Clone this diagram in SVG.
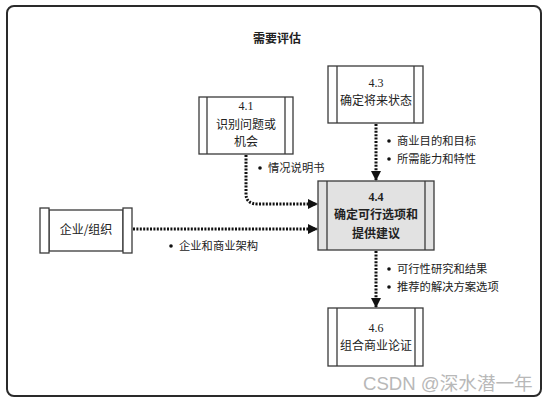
<svg xmlns="http://www.w3.org/2000/svg" width="549" height="403" viewBox="0 0 549 403">
<style>
.box{fill:#fff;stroke:#3a3a3a;stroke-width:1.3}
.gbox{fill:#e2e2e2;stroke:#3a3a3a;stroke-width:1.3}
.t{font-family:"Noto Sans CJK SC","Liberation Sans",sans-serif;font-size:12px;fill:#222;text-anchor:middle}
.n{font-family:"Liberation Serif",serif;font-size:12px;fill:#222;text-anchor:middle}
.b{font-weight:bold}
.lbl{font-family:"Noto Sans CJK SC","Liberation Sans",sans-serif;font-size:11.3px;fill:#222}
.dot{fill:none;stroke:#111;stroke-width:3;stroke-dasharray:2 1.4}
</style>
<defs>
<marker id="ah" markerWidth="10" markerHeight="10" refX="9" refY="5" orient="auto" markerUnits="userSpaceOnUse">
<path d="M0,0 L10,5 L0,10 Z" fill="#111"/>
</marker>
</defs>
<rect x="7" y="6" width="534" height="390" rx="7" fill="#fff" stroke="#2a2a2a" stroke-width="2"/>
<text x="277" y="43" class="t b">需要评估</text>

<g id="n41">
<rect class="box" x="199" y="97" width="94" height="57"/>
<line x1="207" y1="97" x2="207" y2="154" stroke="#3a3a3a" stroke-width="1.3"/>
<line x1="285" y1="97" x2="285" y2="154" stroke="#3a3a3a" stroke-width="1.3"/>
<text x="246" y="110" class="n">4.1</text>
<text x="246" y="129" class="t">识别问题或</text>
<text x="246" y="146" class="t">机会</text>
</g>

<g id="n43">
<rect class="box" x="328" y="66" width="95" height="57"/>
<line x1="337" y1="66" x2="337" y2="123" stroke="#3a3a3a" stroke-width="1.3"/>
<line x1="414" y1="66" x2="414" y2="123" stroke="#3a3a3a" stroke-width="1.3"/>
<text x="376" y="87" class="n">4.3</text>
<text x="376" y="105" class="t">确定将来状态</text>
</g>

<g id="n44">
<rect class="gbox" x="318" y="181" width="116" height="69"/>
<line x1="327" y1="181" x2="327" y2="250" stroke="#3a3a3a" stroke-width="1.3"/>
<line x1="425" y1="181" x2="425" y2="250" stroke="#3a3a3a" stroke-width="1.3"/>
<text x="376" y="201" class="n b">4.4</text>
<text x="376" y="219" class="t b">确定可行选项和</text>
<text x="376" y="238" class="t b">提供建议</text>
</g>

<g id="norg">
<rect class="box" x="49" y="210" width="74" height="41"/>
<rect class="box" x="40" y="208" width="9" height="45"/>
<rect class="box" x="123" y="208" width="9" height="45"/>
<text x="86" y="234" class="t">企业/组织</text>
</g>

<g id="n46">
<rect class="box" x="328" y="308" width="95" height="58"/>
<line x1="337" y1="308" x2="337" y2="366" stroke="#3a3a3a" stroke-width="1.3"/>
<line x1="415" y1="308" x2="415" y2="366" stroke="#3a3a3a" stroke-width="1.3"/>
<text x="376" y="332" class="n">4.6</text>
<text x="376" y="350" class="t">组合商业论证</text>
</g>

<g id="connectors">
<path class="dot" d="M376,124 L376,180" marker-end="url(#ah)"/>
<path class="dot" d="M246,155 L246,194 Q246,204 258,204 L317,204" marker-end="url(#ah)"/>
<path class="dot" d="M133,229 L317,229" marker-end="url(#ah)"/>
<path class="dot" d="M376,251 L376,307" marker-end="url(#ah)"/>
</g>

<g id="labels">
<circle cx="389" cy="141" r="1.8" fill="#111"/>
<text x="397" y="145" class="lbl">商业目的和目标</text>
<circle cx="389" cy="159" r="1.8" fill="#111"/>
<text x="397" y="163" class="lbl">所需能力和特性</text>
<circle cx="260" cy="168" r="1.8" fill="#111"/>
<text x="268" y="172" class="lbl">情况说明书</text>
<circle cx="171" cy="246" r="1.8" fill="#111"/>
<text x="179" y="250" class="lbl">企业和商业架构</text>
<circle cx="389" cy="269" r="1.8" fill="#111"/>
<text x="397" y="273" class="lbl">可行性研究和结果</text>
<circle cx="389" cy="287" r="1.8" fill="#111"/>
<text x="397" y="291" class="lbl">推荐的解决方案选项</text>
</g>

<text x="363" y="390" font-family="'Liberation Sans','Noto Sans CJK SC',sans-serif" font-size="18.6" fill="#b8b8b8">CSDN @深水潜一年</text>
</svg>
